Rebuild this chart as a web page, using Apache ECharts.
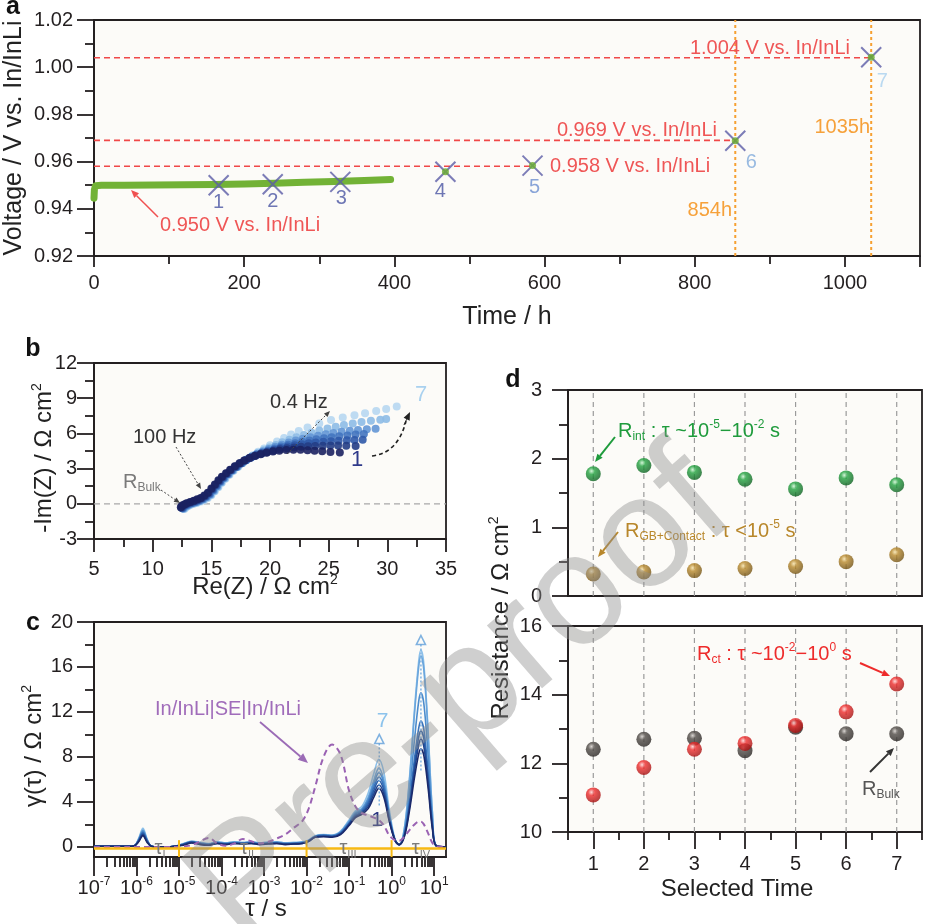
<!DOCTYPE html>
<html><head><meta charset="utf-8">
<script src="https://cdn.jsdelivr.net/npm/echarts@6/dist/echarts.min.js"></script>
<style>html,body{margin:0;padding:0;background:#fff}#c{width:925px;height:924px}</style>
</head><body><div id="c"></div>
<script>
// ================= DATA =================
// panel a
const voltTime = [0, 0.5, 2, 10, 40, 80, 120, 160, 200, 240, 280, 320, 360, 395];
const voltValue = [0.9445, 0.9480, 0.9498, 0.9500, 0.9500, 0.9501, 0.9502, 0.9503, 0.9505, 0.9508, 0.9512, 0.9516, 0.9520, 0.9524];
const markerNames = ['1', '2', '3', '4', '5', '6', '7'];
const markerTime = [166, 238, 328, 468, 584, 854, 1035];
const markerVolt = [0.9500, 0.9504, 0.9514, 0.9557, 0.9583, 0.9688, 1.0042];
const refVolt = [0.950, 0.958, 0.969, 1.004];
const refEnd = [225, 584, 854, 1035];
const eventTimes = [854, 1035];

// panel b (Re, -Im) for selected times 1..7
const nyq1 = [[12.4,-0.3],[12.5,-0.15],[12.7,-0.05],[12.9,0.05],[13.2,0.15],[13.5,0.25],[13.8,0.38],[14.1,0.5],[14.4,0.7],[14.7,0.95],[15.0,1.3],[15.3,1.65],[15.6,2.0],[15.9,2.3],[16.25,2.6],[16.6,2.9],[17.0,3.2],[17.4,3.45],[17.8,3.7],[18.25,3.9],[18.7,4.08],[19.2,4.22],[19.7,4.35],[20.25,4.45],[20.8,4.53],[21.4,4.58],[22.0,4.6],[22.6,4.6],[23.2,4.57],[23.8,4.52],[24.45,4.47],[25.15,4.42],[25.95,4.38]];
const nyq2 = [[12.45,-0.32],[12.55,-0.18],[12.75,-0.07],[12.95,0.03],[13.25,0.13],[13.55,0.23],[13.85,0.35],[14.15,0.48],[14.45,0.67],[14.75,0.92],[15.05,1.26],[15.35,1.62],[15.65,1.97],[15.95,2.28],[16.3,2.58],[16.65,2.88],[17.05,3.18],[17.45,3.45],[17.85,3.7],[18.3,3.92],[18.75,4.1],[19.25,4.26],[19.75,4.4],[20.3,4.53],[20.85,4.64],[21.45,4.73],[22.05,4.8],[22.65,4.86],[23.25,4.9],[23.85,4.93],[24.5,4.95],[25.15,4.96],[25.8,4.96],[26.5,4.95],[27.3,4.93]];
const nyq3 = [[12.5,-0.35],[12.6,-0.2],[12.8,-0.1],[13.0,0.0],[13.3,0.1],[13.6,0.2],[13.9,0.32],[14.2,0.45],[14.5,0.64],[14.8,0.88],[15.1,1.22],[15.4,1.58],[15.7,1.93],[16.0,2.25],[16.35,2.56],[16.7,2.86],[17.1,3.16],[17.5,3.44],[17.9,3.7],[18.35,3.93],[18.8,4.13],[19.3,4.3],[19.8,4.46],[20.35,4.61],[20.9,4.75],[21.5,4.88],[22.1,4.99],[22.7,5.08],[23.3,5.16],[23.9,5.23],[24.55,5.29],[25.2,5.34],[25.85,5.38],[26.55,5.41],[27.2,5.43],[27.9,5.45]];
const nyq4 = [[12.55,-0.38],[12.65,-0.24],[12.85,-0.13],[13.05,-0.03],[13.35,0.07],[13.65,0.17],[13.95,0.29],[14.25,0.42],[14.55,0.6],[14.85,0.84],[15.15,1.18],[15.45,1.54],[15.75,1.9],[16.05,2.22],[16.4,2.54],[16.75,2.85],[17.15,3.16],[17.55,3.45],[17.95,3.72],[18.4,3.97],[18.85,4.18],[19.35,4.37],[19.85,4.55],[20.4,4.72],[20.95,4.88],[21.55,5.03],[22.15,5.17],[22.75,5.29],[23.35,5.4],[23.95,5.5],[24.6,5.59],[25.25,5.67],[25.9,5.75],[26.6,5.83],[27.3,5.9],[28.0,5.95]];
const nyq5 = [[12.6,-0.4],[12.7,-0.27],[12.9,-0.16],[13.1,-0.06],[13.4,0.04],[13.7,0.14],[14.0,0.26],[14.3,0.39],[14.6,0.57],[14.9,0.8],[15.2,1.14],[15.5,1.5],[15.8,1.86],[16.1,2.19],[16.45,2.52],[16.8,2.84],[17.2,3.16],[17.6,3.46],[18.0,3.75],[18.45,4.02],[18.9,4.25],[19.4,4.46],[19.9,4.66],[20.45,4.86],[21.0,5.04],[21.6,5.22],[22.2,5.39],[22.8,5.54],[23.45,5.68],[24.1,5.81],[24.75,5.93],[25.4,6.04],[26.1,6.14],[26.8,6.23],[27.5,6.3],[28.25,6.36],[29.0,6.4]];
const nyq6 = [[12.65,-0.42],[12.75,-0.3],[12.95,-0.18],[13.15,-0.08],[13.45,0.02],[13.75,0.12],[14.05,0.23],[14.35,0.36],[14.65,0.54],[14.95,0.77],[15.25,1.1],[15.55,1.46],[15.85,1.82],[16.15,2.16],[16.5,2.5],[16.85,2.83],[17.25,3.16],[17.65,3.48],[18.05,3.78],[18.5,4.07],[18.95,4.32],[19.45,4.56],[19.95,4.79],[20.5,5.02],[21.05,5.24],[21.65,5.46],[22.25,5.67],[22.9,5.87],[23.55,6.06],[24.2,6.24],[24.9,6.41],[25.6,6.57],[26.3,6.71],[27.05,6.85],[27.8,6.97],[28.6,7.08],[29.4,7.17],[29.9,7.22]];
const nyq7 = [[12.7,-0.45],[12.8,-0.33],[13.0,-0.2],[13.2,-0.1],[13.5,0.0],[13.8,0.1],[14.1,0.2],[14.4,0.33],[14.7,0.5],[15.0,0.73],[15.3,1.06],[15.6,1.42],[15.9,1.79],[16.2,2.13],[16.55,2.48],[16.9,2.82],[17.3,3.16],[17.7,3.5],[18.1,3.82],[18.55,4.14],[19.0,4.43],[19.5,4.72],[20.0,5.0],[20.6,5.3],[21.2,5.6],[21.8,5.9],[22.45,6.2],[23.2,6.5],[24.2,6.85],[25.2,7.15],[26.2,7.36],[27.2,7.55],[28.1,7.72],[29.05,7.9],[29.9,8.07],[30.8,8.3]];

// panel c: log10(tau / s) and gamma(tau)
const logTau = [-7,-6.2,-6.05,-5.95,-5.85,-5.75,-5.65,-5.5,-5.3,-5.1,-4.9,-4.7,-4.5,-4.3,-4.1,-3.9,-3.7,-3.5,-3.3,-3.1,-2.9,-2.7,-2.5,-2.3,-2.1,-1.95,-1.8,-1.6,-1.4,-1.2,-1.0,-0.85,-0.7,-0.55,-0.42,-0.3,-0.18,-0.05,0.08,0.18,0.3,0.42,0.54,0.64,0.69,0.76,0.86,0.96,1.05,1.28];
const drt1 = [0.05,0.05,0.1,0.45,1.0,0.4,0.05,0.0,0.0,0.05,0.15,0.35,0.2,0.15,0.3,0.2,0.3,0.25,0.3,0.2,0.25,0.3,0.2,0.25,0.3,0.5,0.85,0.9,0.85,1.1,1.9,2.6,2.9,3.4,4.4,5.2,4.4,2.2,0.6,0.2,0.9,3.2,6.2,8.3,8.7,8.1,5.2,1.6,0.1,0.0];
const drt2 = [0.05,0.05,0.1,0.5,1.1,0.45,0.05,0.0,0.0,0.05,0.2,0.4,0.25,0.15,0.3,0.25,0.3,0.3,0.3,0.25,0.3,0.3,0.25,0.25,0.3,0.5,0.85,0.95,0.9,1.15,2.0,2.7,3.0,3.6,4.7,5.5,4.7,2.3,0.6,0.2,1.0,3.5,6.8,9.1,9.6,8.9,5.7,1.8,0.1,0.0];
const drt3 = [0.05,0.05,0.1,0.55,1.2,0.5,0.05,0.0,0.0,0.05,0.2,0.4,0.3,0.2,0.35,0.25,0.35,0.3,0.35,0.25,0.3,0.35,0.25,0.3,0.35,0.5,0.9,1.0,0.95,1.2,2.05,2.8,3.1,3.8,5.0,5.9,5.0,2.5,0.6,0.2,1.0,3.7,7.3,9.8,10.3,9.6,6.1,1.9,0.1,0.0];
const drt4 = [0.05,0.05,0.1,0.6,1.3,0.55,0.05,0.0,0.0,0.05,0.2,0.45,0.3,0.2,0.35,0.3,0.35,0.3,0.35,0.3,0.35,0.35,0.3,0.3,0.35,0.55,0.9,1.0,0.95,1.25,2.1,2.9,3.2,4.0,5.3,6.2,5.3,2.6,0.6,0.2,1.1,4.0,7.9,10.6,11.2,10.4,6.6,2.0,0.1,0.0];
const drt5 = [0.05,0.05,0.1,0.65,1.4,0.6,0.05,0.0,0.0,0.05,0.25,0.45,0.35,0.25,0.4,0.3,0.4,0.35,0.4,0.3,0.35,0.4,0.3,0.35,0.4,0.55,0.95,1.05,1.0,1.3,2.2,3.0,3.3,4.2,5.6,6.6,5.6,2.7,0.6,0.2,1.3,4.8,9.6,13.0,13.7,12.7,8.1,2.4,0.1,0.0];
const drt6 = [0.05,0.05,0.1,0.7,1.5,0.65,0.05,0.0,0.0,0.05,0.25,0.5,0.35,0.25,0.4,0.35,0.4,0.35,0.4,0.35,0.4,0.4,0.35,0.35,0.4,0.6,0.95,1.05,1.0,1.35,2.3,3.1,3.4,4.4,5.9,7.0,5.9,2.9,0.6,0.2,1.6,5.9,11.9,16.1,17.0,15.7,10.0,3.0,0.1,0.0];
const drt7 = [0.05,0.05,0.1,0.75,1.65,0.7,0.05,0.0,0.0,0.05,0.3,0.5,0.4,0.3,0.45,0.35,0.45,0.4,0.45,0.35,0.4,0.45,0.35,0.4,0.45,0.6,1.0,1.1,1.05,1.4,2.4,3.2,3.6,4.8,6.5,7.8,6.6,3.2,0.7,0.2,1.6,6.1,12.3,16.6,17.5,16.2,10.3,3.1,0.1,0.0];
const drtRef = [0,0,0,0,0,0,0,0,0,0,0.05,0.15,0.5,0.8,0.3,0.1,0.3,0.7,0.5,0.3,0.45,0.75,1.1,1.7,2.3,3.4,5.3,8.0,9.1,8.2,5.0,3.6,3.0,2.8,2.6,2.4,1.9,1.0,0.6,0.55,0.9,1.5,2.0,2.25,2.25,2.0,1.2,0.35,0.05,0];
const peakTau = [-0.29, 0.69];
const peakMark = [9.6, 18.4];
const peakLow = [3.6, 6.8];
const regionBounds = [-5, -2, 0];
const tauExtent = [-7, 1.28];

// panel d
const selTime = [1, 2, 3, 4, 5, 6, 7];
const rInt = [1.78, 1.90, 1.80, 1.70, 1.56, 1.72, 1.62];
const rGB = [0.32, 0.35, 0.37, 0.40, 0.43, 0.50, 0.60];
const rBulk = [12.41, 12.70, 12.73, 12.37, 13.05, 12.86, 12.86];
const rCt = [11.08, 11.88, 12.41, 12.58, 13.10, 13.50, 14.31];

// ================= STYLE =================
const FONT = '"Liberation Sans", Arial, Helvetica, sans-serif';
const AX = '#231f20';
const LS = {color: AX, width: 1.8};
const nyqColors = ['#1b2160', '#233d85', '#2f59a8', '#4274bf', '#6396d5', '#8dbbe6', '#b7d7f1'];
const drtColors = ['#1b2a6b', '#1f4590', '#2a5ea8', '#3a74bc', '#4d8ccc', '#6aa5dc', '#8cc0ea'];
const markerLabelColors = ['#4a55a3', '#4a55a3', '#4a55a3', '#4a55a3', '#6b8fd0', '#80aadb', '#a9d1ef'];
const markerLabelOffsets = [[0,17],[0,17],[1,17],[-5,20],[2,22],[16,22],[11,24]];

function merge(a, b) {
  const out = Object.assign({}, a);
  for (const k in b) {
    if (b[k] && typeof b[k] === 'object' && !Array.isArray(b[k]) && a[k] && typeof a[k] === 'object') out[k] = merge(a[k], b[k]);
    else out[k] = b[k];
  }
  return out;
}
function axis(grid, min, max, extra) {
  return merge({
    gridIndex: grid, type: 'value', min: min, max: max,
    axisLine: {show: true, onZero: false, lineStyle: LS},
    axisTick: {show: true, length: 16, lineStyle: LS},
    minorTick: {show: false, length: 9, lineStyle: LS},
    axisLabel: {show: true, fontSize: 20, color: AX, fontFamily: FONT, margin: 18},
    splitLine: {show: false}, minorSplitLine: {show: false}
  }, extra || {});
}
const hidden = {axisLine: {show: false}, axisLabel: {show: false}};

// minor log ticks for tau axis
const tauMinor = [];
for (let d = -7; d <= 1; d++) for (let m = 2; m <= 9; m++) { const v = d + Math.log10(m); if (v < tauExtent[1]) tauMinor.push(v); }

const xAxis = [
  axis(0, 0, 1100, {interval: 200, position: 'bottom', axisTick: {length: 11}, minorTick: {show: true, splitNumber: 2, length: 8}, axisLabel: {showMaxLabel: false, margin: 17, formatter: v => String(v)}}),
  axis(1, 5, 35, {interval: 5, position: 'bottom', axisTick: {length: 13}, minorTick: {show: true, splitNumber: 2, length: 8}, axisLabel: {margin: 20}}),
  axis(2, tauExtent[0], tauExtent[1], {interval: 1, position: 'bottom', axisTick: {length: 19}, axisLabel: {showMaxLabel: false, margin: 19,
    formatter: v => '{b|10}{s|' + Math.round(v) + '}',
    rich: {b: {fontSize: 20, fontFamily: FONT, color: AX, lineHeight: 24}, s: {fontSize: 12, fontFamily: FONT, color: AX, lineHeight: 12, verticalAlign: 'top'}}}}),
  axis(2, tauExtent[0], tauExtent[1], merge(hidden, {position: 'bottom', axisTick: {length: 10, customValues: tauMinor}})),
  axis(3, 0.5, 7.5, {position: 'bottom', axisTick: {show: false}, axisLabel: {show: false}}),
  axis(4, 0.5, 7.5, {position: 'bottom', axisTick: {length: 17, customValues: selTime}, axisLabel: {customValues: selTime, margin: 22}}),
  axis(4, 0.5, 7.5, merge(hidden, {position: 'bottom', axisTick: {length: 8, customValues: [0.5,1.5,2.5,3.5,4.5,5.5,6.5,7.5]}}))
];
const yAxis = [
  axis(0, 0.92, 1.02, {interval: 0.02, position: 'left', axisTick: {length: 17}, minorTick: {show: true, splitNumber: 2, length: 9}, axisLabel: {margin: 21, formatter: v => v.toFixed(2)}}),
  axis(1, -3, 12, {interval: 3, position: 'left', axisTick: {length: 17}, minorTick: {show: true, splitNumber: 2, length: 9}, axisLabel: {margin: 17}}),
  axis(2, -0.9, 20, {position: 'left', axisTick: {length: 17, customValues: [0,4,8,12,16,20]}, axisLabel: {margin: 21, customValues: [0,4,8,12,16,20]}}),
  axis(2, -0.9, 20, merge(hidden, {position: 'left', axisTick: {length: 9, customValues: [2,6,10,14,18]}})),
  axis(3, 0, 3, {interval: 1, position: 'left', axisTick: {length: 16}, minorTick: {show: true, splitNumber: 2, length: 9}, axisLabel: {margin: 26}}),
  axis(4, 10, 16, {interval: 2, position: 'left', axisTick: {length: 16}, minorTick: {show: true, splitNumber: 2, length: 9}, axisLabel: {margin: 26}})
];

const gridStyle = {show: true, backgroundColor: '#fcfbf8', borderColor: AX, borderWidth: 1.8};
const grid = [
  Object.assign({left: 94, top: 20, width: 826, height: 236}, gridStyle),
  Object.assign({left: 94, top: 363, width: 352, height: 176}, gridStyle),
  Object.assign({left: 94, top: 622, width: 352, height: 235}, gridStyle),
  Object.assign({left: 568, top: 390, width: 354, height: 206}, gridStyle),
  Object.assign({left: 568, top: 626, width: 354, height: 206}, gridStyle)
];

const series = [];
function seg(xi, yi, pts, color, width, type, z) {
  series.push({type: 'line', xAxisIndex: xi, yAxisIndex: yi, data: pts, symbol: 'none', silent: true, z: z || 1,
    lineStyle: {color: color, width: width, type: type}});
}
// ---- panel a ----
refVolt.forEach((v, i) => seg(0, 0, [[0, v], [refEnd[i], v]], '#f04848', 1.6, [6, 4], 2));
eventTimes.forEach(t => seg(0, 0, [[t, 0.92], [t, 1.02]], '#f6a032', 2, [3, 3], 2));
series.push({type: 'line', xAxisIndex: 0, yAxisIndex: 0, symbol: 'none', z: 3,
  data: voltTime.map((t, i) => [t, voltValue[i]]),
  lineStyle: {color: '#72b236', width: 7, cap: 'round', join: 'round'}});
series.push({type: 'scatter', xAxisIndex: 0, yAxisIndex: 0, z: 4,
  symbol: 'path://M0,0L20,20M20,0L0,20', symbolSize: 20,
  itemStyle: {color: 'rgba(0,0,0,0)', borderColor: '#5b5da6', borderWidth: 2},
  data: markerTime.map((t, i) => ({value: [t, markerVolt[i]], name: markerNames[i],
    label: {color: markerLabelColors[i], offset: markerLabelOffsets[i]}})),
  label: {show: true, position: 'inside', formatter: '{b}', fontSize: 20, fontFamily: FONT}});
series.push({type: 'scatter', xAxisIndex: 0, yAxisIndex: 0, z: 5, symbolSize: 7,
  itemStyle: {color: '#6aae2e'},
  data: markerTime.slice(3).map((t, i) => [t, markerVolt[i + 3]])});

// ---- panel b ----
seg(1, 1, [[5, 0], [35, 0]], '#a8a8a8', 1.3, [6, 4], 1);
const nyqAll = [nyq1, nyq2, nyq3, nyq4, nyq5, nyq6, nyq7];
for (let k = 6; k >= 0; k--) {
  series.push({type: 'scatter', xAxisIndex: 1, yAxisIndex: 1, z: 2, symbolSize: 8,
    itemStyle: {color: nyqColors[k], opacity: 0.9}, data: nyqAll[k]});
}

// ---- panel c ----
const drtAll = [drt1, drt2, drt3, drt4, drt5, drt6, drt7];
for (let k = 6; k >= 0; k--) {
  series.push({type: 'line', xAxisIndex: 2, yAxisIndex: 2, symbol: 'none', smooth: 0.35, z: 2,
    lineStyle: {color: drtColors[k], width: 1.6}, data: logTau.map((x, i) => [x, drtAll[k][i]])});
}
series.push({type: 'line', xAxisIndex: 2, yAxisIndex: 2, symbol: 'none', smooth: 0.35, z: 3,
  lineStyle: {color: '#9a62b3', width: 2, type: [6, 4]}, data: logTau.map((x, i) => [x, drtRef[i]])});
seg(2, 2, [[tauExtent[0], -0.15], [tauExtent[1], -0.15]], '#f7b913', 2.6, 'solid', 4);
regionBounds.forEach(b => seg(2, 2, [[b, -0.9], [b, 0.6]], '#f7b913', 2, 'solid', 4));
peakTau.forEach((x, i) => seg(2, 2, [[x, peakMark[i] - 0.4], [x, peakLow[i]]], '#7fb2e2', 1.5, [2, 2], 4));
series.push({type: 'scatter', xAxisIndex: 2, yAxisIndex: 2, z: 5, symbol: 'triangle', symbolSize: 9,
  itemStyle: {color: 'rgba(255,255,255,0)', borderColor: '#5f9fd9', borderWidth: 1.6},
  data: peakTau.map((x, i) => [x, peakMark[i]])});

// ---- panel d ----
selTime.forEach(t => { seg(4, 4, [[t, 0], [t, 3]], '#9a9a9a', 1.2, [5, 4], 1); seg(5, 5, [[t, 10], [t, 16]], '#9a9a9a', 1.2, [5, 4], 1); });
function sphere(hi, mid, dark) {
  return {type: 'radial', x: 0.38, y: 0.32, r: 0.75, colorStops: [{offset: 0, color: hi}, {offset: 0.3, color: mid}, {offset: 1, color: dark}]};
}
function balls(xi, yi, vals, col) {
  series.push({type: 'scatter', xAxisIndex: xi, yAxisIndex: yi, z: 3, symbolSize: 15,
    itemStyle: {color: col}, data: selTime.map((t, i) => [t, vals[i]])});
}
balls(4, 4, rInt, sphere('#c9f3d0', '#22a23f', '#0b5a1e'));
balls(4, 4, rGB, sphere('#f5e1a8', '#b8892c', '#6a4b10'));
balls(5, 5, rBulk, sphere('#cfcac6', '#4f4a46', '#262220'));
balls(5, 5, rCt, sphere('#ffd2d2', '#ee2c2c', '#9c0e0e'));

// ================= ANNOTATIONS =================
const G = [];
function T(x, y, text, s, rot) {
  G.push({type: 'text', x: x, y: y, rotation: rot || 0, z: 50,
    style: Object.assign({text: text, fontFamily: FONT, fontSize: 20, fill: '#222', textAlign: 'center', textVerticalAlign: 'middle'}, s || {})});
}
function arrow(x1, y1, x2, y2, color, width, dash, head) {
  head = head || 8;
  const a = Math.atan2(y2 - y1, x2 - x1);
  const bx = x2 - head * Math.cos(a), by = y2 - head * Math.sin(a);
  const px = -Math.sin(a) * head * 0.42, py = Math.cos(a) * head * 0.42;
  G.push({type: 'line', z: 50, shape: {x1: x1, y1: y1, x2: bx, y2: by}, style: {stroke: color, lineWidth: width, lineDash: dash || null}});
  G.push({type: 'polygon', z: 50, shape: {points: [[x2, y2], [bx + px, by + py], [bx - px, by - py]]}, style: {fill: color}});
}
function rich(fs, col, supSize) {
  const ss = supSize || Math.round(fs * 0.6);
  return {
    a: {fontSize: fs, fontFamily: FONT, fill: col, color: col, lineHeight: fs + 4},
    b: {fontSize: ss, fontFamily: FONT, fill: col, color: col, lineHeight: ss, verticalAlign: 'bottom'},
    c: {fontSize: ss, fontFamily: FONT, fill: col, color: col, lineHeight: ss, verticalAlign: 'top'}
  };
}
// panel letters
T(13, 7, 'a', {fontSize: 25, fontWeight: 'bold', fill: '#111'});
T(33, 349, 'b', {fontSize: 25, fontWeight: 'bold', fill: '#111'});
T(33, 623, 'c', {fontSize: 25, fontWeight: 'bold', fill: '#111'});
T(513, 380, 'd', {fontSize: 25, fontWeight: 'bold', fill: '#111'});
// axis titles
T(14, 138, 'Voltage / V vs. In/InLi', {fontSize: 25}, Math.PI / 2);
T(507, 317, 'Time / h', {fontSize: 25});
T(44, 458, '{a|-Im(Z) / Ω cm}{c|2}', {rich: rich(24, '#222', 14)}, Math.PI / 2);
T(265, 587, '{a|Re(Z) / Ω cm}{c|2}', {rich: rich(24, '#222', 14)});
T(34, 746, '{a|γ(τ) / Ω cm}{c|2}', {rich: rich(24, '#222', 14)}, Math.PI / 2);
T(266, 909, 'τ / s', {fontSize: 24});
T(501, 618, '{a|Resistance / Ω cm}{c|2}', {rich: rich(24, '#222', 14)}, Math.PI / 2);
T(737, 889, 'Selected Time', {fontSize: 24});
// panel a
const RT = '#ef5656', OR = '#f6a13a';
T(850, 48, '1.004 V vs. In/InLi', {fill: RT, textAlign: 'right'});
T(717, 130, '0.969 V vs. In/InLi', {fill: RT, textAlign: 'right'});
T(550, 166, '0.958 V vs. In/InLi', {fill: RT, textAlign: 'left'});
T(160, 225, '0.950 V vs. In/InLi', {fill: RT, textAlign: 'left'});
arrow(158, 217, 131, 190, '#f05050', 1.5);
T(732, 210, '854h', {fill: OR, textAlign: 'right'});
T(870, 127, '1035h', {fill: OR, textAlign: 'right'});
// panel b
T(133, 437, '100 Hz', {textAlign: 'left', fill: '#333'});
T(270, 402, '0.4 Hz', {textAlign: 'left', fill: '#333'});
T(123, 482, '{a|R}{b|Bulk}', {textAlign: 'left', rich: rich(20, '#7a7a7a', 12)});
arrow(176, 447, 201, 489, '#444', 1, [2, 2], 6);
arrow(287, 454, 330, 411, '#444', 1, [2, 2], 6);
arrow(161, 490, 180, 503, '#444', 1, [2, 2], 6);
T(421, 395, '7', {fontSize: 22, fill: '#a9d1ef'});
T(357, 460, '1', {fontSize: 22, fill: '#2f3a8a'});
G.push({type: 'bezierCurve', z: 50, shape: {x1: 372, y1: 456, x2: 406, y2: 421, cpx1: 398, cpy1: 453}, style: {stroke: '#222', lineWidth: 1.6, lineDash: [4, 3], fill: null}});
arrow(404, 425, 410, 412, '#222', 1, null, 8);
// panel c
T(228, 709, 'In/InLi|SE|In/InLi', {fill: '#a06cba'});
arrow(260, 722, 308, 763, '#9b6bb6', 1.8, null, 10);
T(382.5, 721, '7', {fontSize: 21, fill: '#8cc3ec'});
T(377, 820, '1', {fontSize: 21, fill: '#2a3580'});
[['I', 160], ['II', 247], ['III', 348], ['IV', 421]].forEach(p => T(p[1], 848, '{a|τ}{b|' + p[0] + '}', {rich: rich(20, '#7a7a7a', 11)}));
// panel d
T(618, 431, '{a|R}{b|int}{a| : τ ~10}{c|-5}{a|−10}{c|-2}{a| s}', {textAlign: 'left', rich: rich(20, '#1e9b3c', 12)});
arrow(615, 437, 595, 462, '#1e9b3c', 2, null, 8);
T(625, 531, '{a|R}{b|GB+Contact}{a| : τ <10}{c|-5}{a| s}', {textAlign: 'left', rich: rich(20, '#b8872b', 12)});
arrow(618, 532, 598, 557, '#b8872b', 2, null, 8);
T(697, 654, '{a|R}{b|ct}{a| : τ ~10}{c|-2}{a|−10}{c|0}{a| s}', {textAlign: 'left', rich: rich(20, '#ee2b2b', 12)});
arrow(860, 663, 890, 676, '#ee2b2b', 2, null, 8);
T(862, 789, '{a|R}{b|Bulk}', {textAlign: 'left', rich: rich(20, '#555', 12)});
arrow(870, 772, 894, 748, '#333', 2, null, 8);
// watermark
G.push({type: 'text', x: 462, y: 700, rotation: 41 * Math.PI / 180, z: 100, silent: true,
  style: {text: 'Pre-proof', fontFamily: FONT, fontSize: 158, fill: 'rgba(140,140,140,0.42)', textAlign: 'center', textVerticalAlign: 'middle'}});

const chart = echarts.init(document.getElementById('c'), null, {renderer: 'canvas'});
chart.setOption({
  backgroundColor: '#ffffff', animation: false,
  textStyle: {fontFamily: FONT},
  grid: grid, xAxis: xAxis, yAxis: yAxis, series: series, graphic: G
});
</script></body></html>
